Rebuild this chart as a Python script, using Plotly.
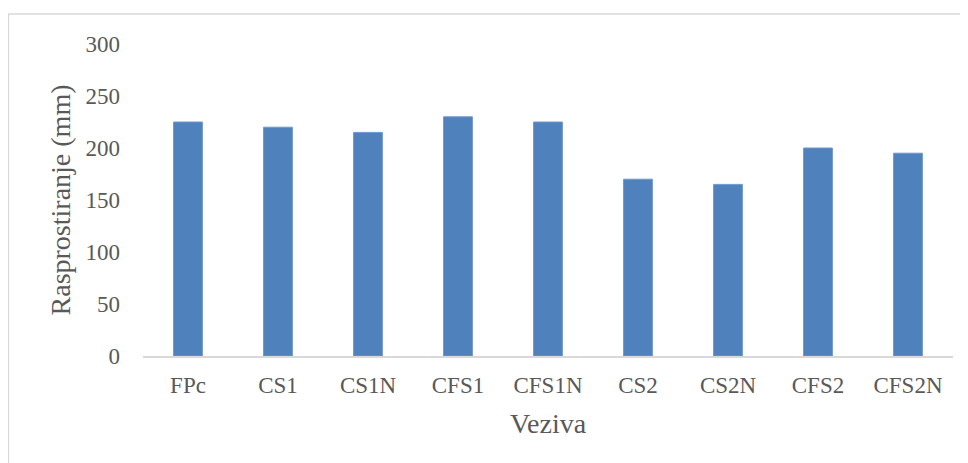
import plotly.graph_objects as go

categories = ["FPc", "CS1", "CS1N", "CFS1", "CFS1N", "CS2", "CS2N", "CFS2", "CFS2N"]
values = [225, 220, 215, 230, 225, 170, 165, 200, 195]
y_ticks = [0, 50, 100, 150, 200, 250, 300]

FONT = "Liberation Serif"
GREY = "#595959"
FS = 23
TFS = 28

fig = go.Figure(go.Bar(
    x=categories, y=values,
    marker=dict(color="#4f81bd", line=dict(color="#6f97cc", width=1)),
))

# page body has an 8px margin in the browser
W, H = 960, 455
L, R, T, B = 135, 15, 36, 107
pw, ph = W - L - R, H - T - B

fig.update_layout(
    width=W, height=H,
    margin=dict(l=L, r=R, t=T, b=B),
    paper_bgcolor="white", plot_bgcolor="white",
    bargap=0.68,
    showlegend=False,
    font=dict(family=FONT, color=GREY, size=FS),
    xaxis=dict(
        showline=True, linecolor="#d9d9d9", linewidth=1.5,
        showgrid=False, ticks="", ticklabelstandoff=8,
        tickfont=dict(family=FONT, size=FS, color=GREY),
        title=dict(text="Veziva", font=dict(family=FONT, size=TFS, color=GREY), standoff=16),
    ),
    yaxis=dict(
        range=[0, 300], tickvals=y_ticks,
        showline=False, showgrid=False, zeroline=False, ticks="",
        ticklabelstandoff=22,
        tickfont=dict(family=FONT, size=FS, color=GREY),
        title=dict(text="Rasprostiranje (mm)", font=dict(family=FONT, size=TFS, color=GREY), standoff=6),
    ),
    shapes=[dict(
        type="rect", xref="paper", yref="paper",
        x0=(0.5 - L) / pw, x1=(W + 20 - L) / pw,
        y0=-(B + 30) / ph, y1=(ph + T - 6) / ph,
        line=dict(color="#d9d9d9", width=1.5), fillcolor="rgba(0,0,0,0)", layer="below",
    )],
)

fig.write_html("out.html")
